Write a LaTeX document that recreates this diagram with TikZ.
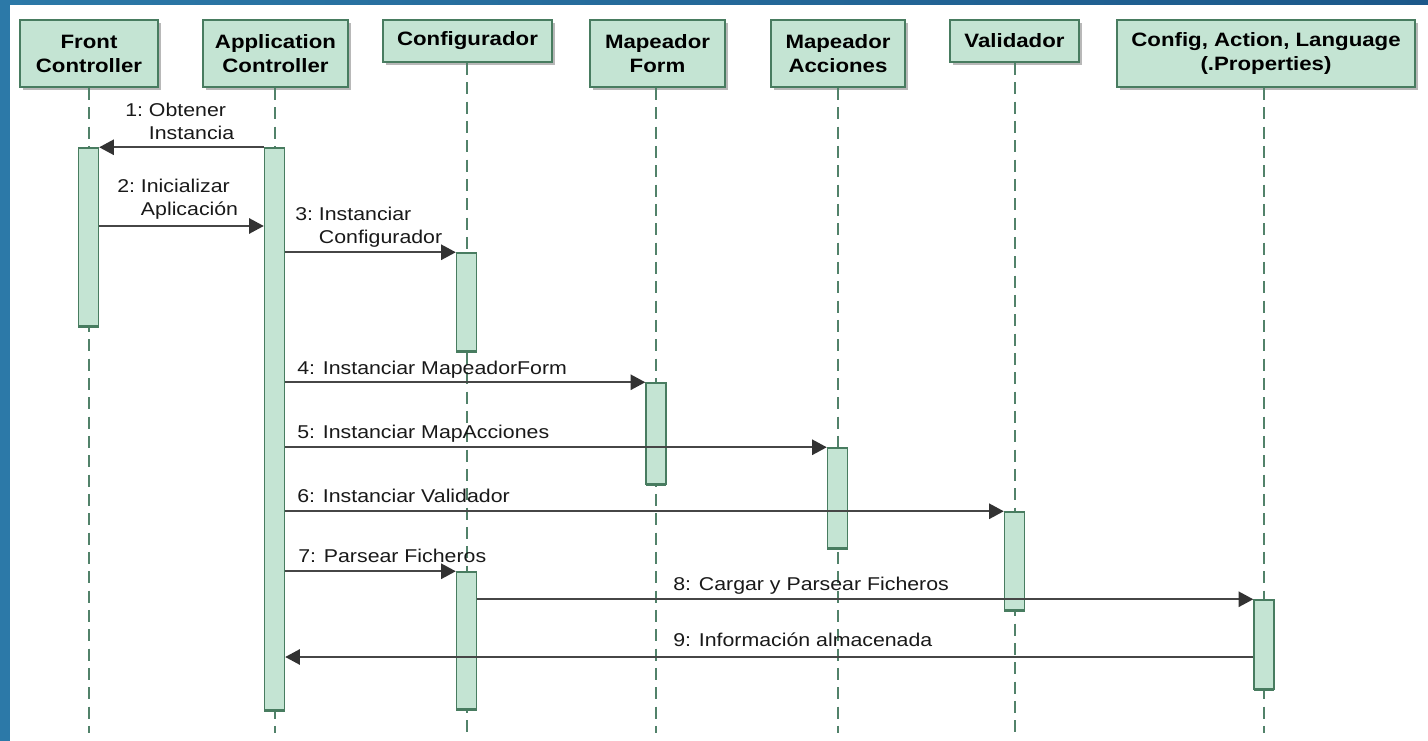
\documentclass[tikz,border=0pt]{standalone}
\usepackage{fontspec}
\setmainfont{Liberation Sans}[FakeStretch=1.15]
\usetikzlibrary{arrows.meta,shadows}

\definecolor{boxfill}{RGB}{196,228,211}
\definecolor{boxline}{RGB}{72,124,96}
\definecolor{lifecol}{RGB}{82,130,106}
\definecolor{msgcol}{RGB}{70,70,70}
\definecolor{tipcol}{RGB}{50,50,50}
\definecolor{framel}{RGB}{44,121,168}
\definecolor{framer}{RGB}{28,88,138}
\definecolor{txt}{RGB}{25,25,25}

\begin{document}
\begin{tikzpicture}[x=0.75pt,y=-0.75pt,
  head/.style={draw=boxline, line width=1.4pt, fill=boxfill, inner sep=0pt,
    align=center, text=black,
    font=\fontsize{14.5}{18}\selectfont\bfseries,
    drop shadow={shadow xshift=2.5pt, shadow yshift=-2.5pt, fill=black, opacity=0.28}},
  act/.style={draw=boxline, line width=1.1pt, fill=boxfill, inner sep=0pt,
    minimum width=15pt},
  actbase/.style={draw=boxline, line width=2.2pt},
  lifeline/.style={draw=lifecol, line width=1.5pt, dash pattern=on 9pt off 5.5pt},
  msg/.style={draw=msgcol, line width=1.3pt,
    -{Triangle[length=11pt,width=11.5pt,fill=tipcol,color=tipcol]}},
  reply/.style={draw=msgcol, line width=1.3pt,
    -{Triangle[length=11pt,width=11.5pt,fill=tipcol,color=tipcol]}},
  lbl/.style={anchor=base west, inner sep=0pt, text=txt,
    font=\fontsize{13.9}{17.25}\selectfont}
]
% page and blue frame
\useasboundingbox (0,0) rectangle (1428,741);
\shade[left color=framel, right color=framer] (0,0) rectangle (1428,741);
\fill[white] (10,5) rectangle (1428,741);

% lifeline heads
\node[head, minimum width=103.5pt, minimum height=50.25pt] (front) at (89,53.5) {Front\\Controller};
\node[head, minimum width=108.75pt, minimum height=50.25pt] (app) at (275.5,53.5) {Application\\Controller};
\node[head, minimum width=126.75pt, minimum height=31.5pt] (conf) at (467.5,41) {Configurador};
\node[head, minimum width=101.25pt, minimum height=50.25pt] (mform) at (657.5,53.5) {Mapeador\\Form};
\node[head, minimum width=100.5pt, minimum height=50.25pt] (macc) at (838,53.5) {Mapeador\\Acciones};
\node[head, minimum width=96.75pt, minimum height=31.5pt] (valid) at (1014.5,41) {Validador};
\node[head, minimum width=223.5pt, minimum height=50.25pt] (props) at (1266,53.5) {Config, Action, Language\\(.Properties)};

% lifelines
\coordinate (bottom) at (0,733);
\foreach \n/\x in {front/88.5,app/274.5,conf/466.5,mform/656,macc/837.5,valid/1015,props/1264}
  \draw[lifeline] (\x,0 |- \n.south) -- (\x,733);

% activation bars
\node[act, minimum height=133.5pt] (fa) at (88.5,237) {};
\node[act, minimum height=421.5pt] (aa) at (274.5,429) {};
\node[act, minimum height=73.5pt] (ca1) at (466.5,302) {};
\node[act, minimum height=102.75pt] (ca2) at (466.5,640.5) {};
\node[act, minimum height=75.75pt] (mfa) at (656,433.5) {};
\node[act, minimum height=75pt] (maa) at (837.5,498) {};
\node[act, minimum height=73.5pt] (va) at (1014.5,561) {};
\node[act, minimum height=66.75pt] (pa) at (1264,644.5) {};
\foreach \b in {fa,aa,ca1,ca2,mfa,maa,va,pa}
  \draw[actbase] ([xshift=0.3pt]\b.south west) -- ([xshift=-0.3pt]\b.south east);

% message levels
\coordinate (m2) at (0,226);
\coordinate (m9) at (0,657);

% messages
\draw[msg] (aa.north west) -- (fa.north east);
\draw[msg] (fa.east |- m2) -- (aa.west |- m2);
\draw[msg] (aa.east |- ca1.north) -- (ca1.north west);
\draw[msg] (aa.east |- mfa.north) -- (mfa.north west);
\draw[msg] (aa.east |- maa.north) -- (maa.north west);
\draw[msg] (aa.east |- va.north) -- (va.north west);
\draw[msg] (aa.east |- ca2.north) -- (ca2.north west);
\draw[msg] (ca2.east |- pa.north) -- (pa.north west);
\draw[reply] (pa.west |- m9) -- (aa.east |- m9);

% message labels
\node[lbl] (l1) at (125,117) {\begin{tabular}[t]{@{}l@{}l@{}}1:\ \ &Obtener\\&Instancia\end{tabular}};
\node[lbl] (l2) at (117,193) {\begin{tabular}[t]{@{}l@{}l@{}}2:\ \ &Inicializar\\&Aplicación\end{tabular}};
\node[lbl] (l3) at (295,221) {\begin{tabular}[t]{@{}l@{}l@{}}3:\ \ &Instanciar\\&Configurador\end{tabular}};
\node[lbl] (l4) at (297,375) {4: Instanciar MapeadorForm};
\node[lbl] (l5) at (297,439) {5: Instanciar MapAcciones};
\node[lbl] (l6) at (297,503) {6: Instanciar Validador};
\node[lbl] (l7) at (298,562) {7: Parsear Ficheros};
\node[lbl] (l8) at (673,590) {8: Cargar y Parsear Ficheros};
\node[lbl] (l9) at (673,646) {9: Información almacenada};
\end{tikzpicture}
\end{document}
